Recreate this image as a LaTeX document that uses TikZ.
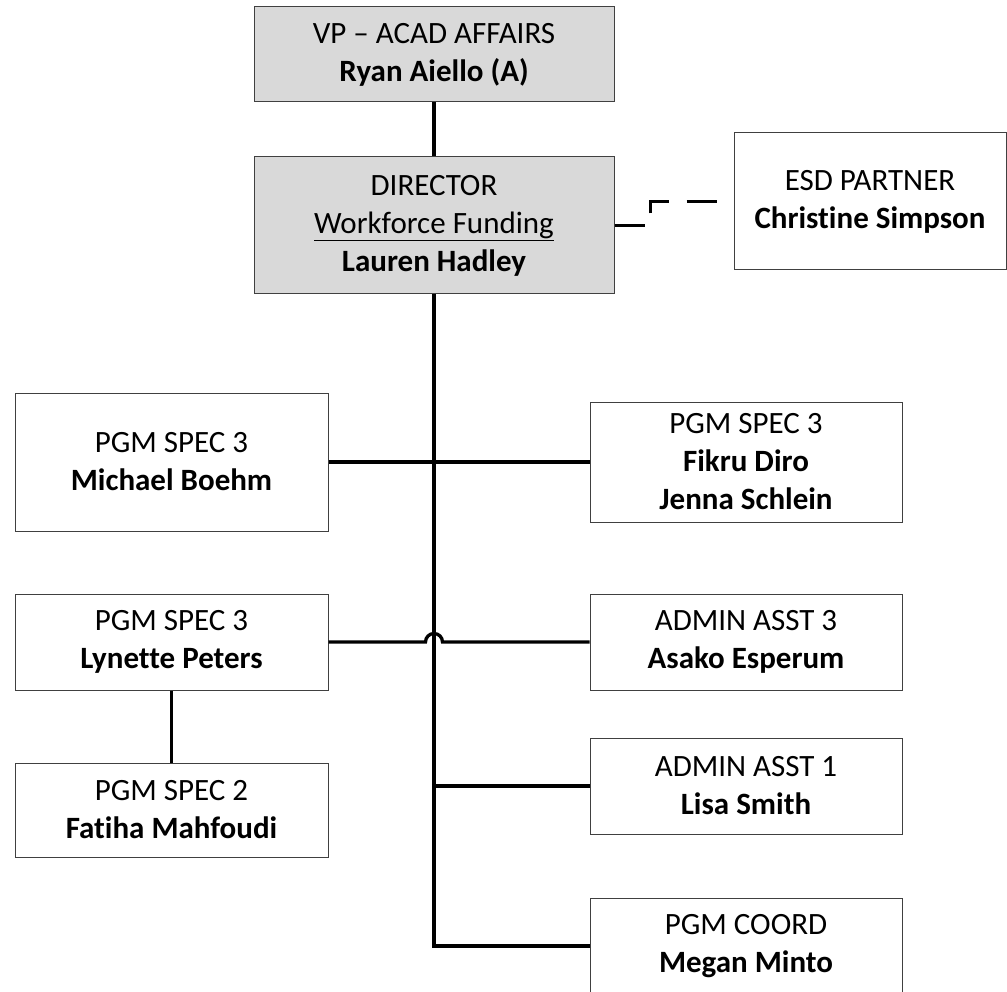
\documentclass[tikz,border=0pt]{standalone}
\usepackage{fontspec}
\setmainfont[Ligatures=NoCommon]{Carlito}
\usetikzlibrary{calc}
\definecolor{boxgray}{HTML}{D9D9D9}
\definecolor{boxline}{HTML}{404040}
\tikzset{
  orgbox/.style={draw=boxline, line width=1pt, fill=white, rectangle, inner sep=0pt,
    align=center, font=\fontsize{31}{38}\selectfont},
  graybox/.style={orgbox, fill=boxgray},
  conn/.style={line width=3.3pt, black},
  dashconn/.style={line width=3.3pt, black, dash pattern=on 30pt off 18pt}
}
\begin{document}
\begin{tikzpicture}[x=1pt,y=-1pt]
\useasboundingbox (0,0) rectangle (1007,992);
% boxes
\node[graybox, minimum width=360pt, minimum height=95pt] (vp) at (434,54.5)
  {VP -- ACAD AFFAIRS\\\textbf{Ryan Aiello (A)}};
\node[graybox, minimum width=360pt, minimum height=137pt] (dir) at (434,225.5)
  {DIRECTOR\\\underline{Workforce Funding}\\\textbf{Lauren Hadley}};
\node[orgbox, minimum width=272pt, minimum height=137pt] (esd) at (870,201.5)
  {ESD PARTNER\\\textbf{Christine Simpson}};
\node[orgbox, minimum width=313pt, minimum height=138pt] (mb) at (171.5,462)
  {PGM SPEC 3\\\textbf{Michael Boehm}};
\node[orgbox, minimum width=312pt, minimum height=120pt] (fd) at (746,462)
  {PGM SPEC 3\\\textbf{Fikru Diro}\\\textbf{Jenna Schlein}};
\node[orgbox, minimum width=313pt, minimum height=96pt] (lp) at (171.5,642)
  {PGM SPEC 3\\\textbf{Lynette Peters}};
\node[orgbox, minimum width=313pt, minimum height=94pt] (fm) at (171.5,810)
  {PGM SPEC 2\\\textbf{Fatiha Mahfoudi}};
\node[orgbox, minimum width=312pt, minimum height=96pt] (aa3) at (746,642)
  {ADMIN ASST 3\\\textbf{Asako Esperum}};
\node[orgbox, minimum width=312pt, minimum height=96pt] (aa1) at (746,786)
  {ADMIN ASST 1\\\textbf{Lisa Smith}};
\node[orgbox, minimum width=312pt, minimum height=96pt] (pc) at (746,946)
  {PGM COORD\\\textbf{Megan Minto}};
% connectors
\draw[conn] (vp.south) -- (dir.north);
\draw[conn] (dir.south) |- (pc.west);
\draw[conn] (mb.east) -- (fd.west);
\coordinate (hopL) at ($(lp.east -| dir.south) + (-8.5,0)$);
\draw[conn] (lp.east) -- (hopL) arc[start angle=180, end angle=0, radius=8.5pt] -- (aa3.west);
\coordinate (a1) at (dir.south |- aa1.west);
\draw[conn] (a1) -- (aa1.west);
\draw[conn] (lp.south) -- (fm.north);
\draw[dashconn] (dir.east) -- ++(36,0) |- (esd.west);
\end{tikzpicture}
\end{document}
